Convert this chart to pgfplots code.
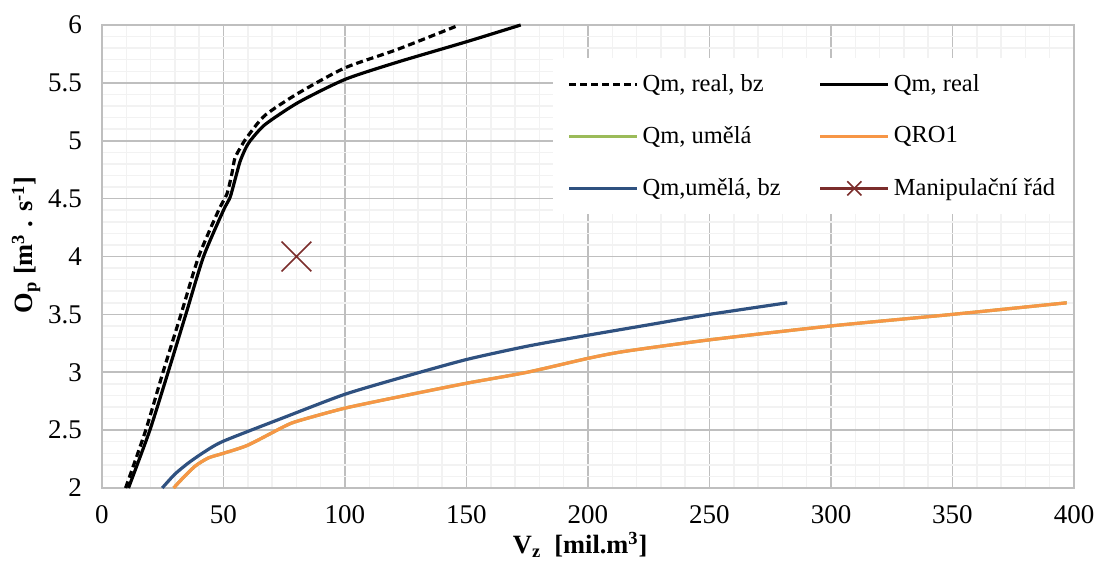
\documentclass[border=0pt]{standalone}
\usepackage{fontspec}
\setmainfont{Liberation Serif}
\usepackage{pgfplots}
\pgfplotsset{compat=1.18}
\definecolor{gridmaj}{HTML}{BFBFBF}
\definecolor{gridmin}{HTML}{F2F2F2}
\definecolor{qgreen}{HTML}{9BBB59}
\definecolor{qorange}{HTML}{F79646}
\definecolor{qblue}{HTML}{2F5180}
\definecolor{qred}{HTML}{7B2D2B}

\begin{document}
\begin{tikzpicture}
\begin{axis}[
  name=ax,
  scale only axis, width=486pt, height=231.5pt,
  xmin=0, xmax=400, ymin=2, ymax=6,
  xtick={0,50,...,400}, ytick={2,2.5,...,6},
  minor x tick num=4, minor y tick num=4,
  grid=both,
  major grid style={gridmaj, line width=0.75pt},
  minor grid style={gridmin, line width=0.75pt},
  axis line style={gridmaj, line width=0.75pt},
  major tick length=0pt, minor tick length=0pt,
  tick label style={font=\fontsize{13.5}{16}\selectfont},
  /pgf/number format/assume math mode=true,
  yticklabel style={xshift=-6.5pt},
  xticklabel style={yshift=-5pt},
  xlabel={\textbf{V\textsubscript{z}\ \ [mil.m\textsuperscript{3}]}},
  ylabel={\textbf{O\textsubscript{p} [m\textsuperscript{3} . s\textsuperscript{-1}]}},
  label style={font=\fontsize{13.2}{15}\selectfont},
  xlabel style={at={(axis description cs:0.492,-0.123)}, anchor=center},
  ylabel style={at={(axis description cs:-0.078,0.525)}, anchor=center},
  clip=false,
  every axis plot/.append style={line width=1.6pt},
  legend columns=2,
  legend cell align=left,
  legend style={at={(axis description cs:0.464,0.929)}, anchor=north west,
    draw=none, fill=white, font=\fontsize{12.25}{14}\selectfont,
    row sep=12pt, inner xsep=7pt, inner ysep=6pt,
    /tikz/column 2/.style={column sep=17pt}},
  legend image code/.code={\draw[#1] (0pt,0pt) -- (34pt,0pt);},
]
% Qm, real, bz
\addplot[black, smooth, tension=0.4, dash pattern=on 3.5pt off 2pt] coordinates {
(9.7,2) (18,2.5) (25.1,3) (32.5,3.5) (39.8,4) (48,4.4) (51.4,4.54) (53.4,4.71)
(54.7,4.85) (57.5,4.96) (60,5.04) (67.1,5.22) (80.7,5.41) (100,5.63) (121.7,5.79) (147,6.0)};
% Qm, real
\addplot[black, smooth, tension=0.4] coordinates {
(10.9,2) (19.7,2.5) (27.2,3) (34.5,3.5) (41.8,4) (50,4.4) (52.7,4.51) (54.7,4.66)
(56.8,4.82) (59,4.93) (61,5.0) (67.1,5.14) (80.7,5.33) (100,5.53) (121.7,5.68) (150.1,5.856) (172.3,6.0)};
% Qm, umela
\addplot[qgreen, smooth, tension=0.4] coordinates {
(29.5,2) (33,2.08) (38.4,2.19) (43.8,2.26) (50,2.30) (60,2.37) (75.3,2.535) (80.8,2.58)
(100,2.69) (125,2.80) (150,2.905) (175,3.0) (200,3.12) (215,3.18) (250,3.28) (300,3.40) (350,3.50) (397,3.6)};
% QRO1
\addplot[qorange, smooth, tension=0.4] coordinates {
(29.5,2) (33,2.08) (38.4,2.19) (43.8,2.26) (50,2.30) (60,2.37) (75.3,2.535) (80.8,2.58)
(100,2.69) (125,2.80) (150,2.905) (175,3.0) (200,3.12) (215,3.18) (250,3.28) (300,3.40) (350,3.50) (397,3.6)};
% Qm, umela, bz
\addplot[qblue, smooth, tension=0.4] coordinates {
(24.8,2) (30,2.12) (35.6,2.217) (42,2.31) (50,2.405) (75,2.61) (100,2.81) (125,2.965)
(150,3.11) (175,3.225) (200,3.32) (225,3.41) (250,3.5) (282,3.6)};
% Manipulacni rad
\addplot[qred, only marks, mark=x, mark size=10.5pt, mark options={line width=0.8pt},
  legend image code/.code={
    \draw[qred, line width=1.6pt] (0pt,0pt) -- (34pt,0pt);
    \draw[qred, sharp plot, mark=x, mark size=5pt, mark options={line width=0.8pt},
      mark repeat=2, mark phase=2] plot coordinates {(0pt,0pt) (17pt,0pt) (34pt,0pt)};}
] coordinates {(80,4)};
\legend{Qm{,} real{,} bz, Qm{,} real, Qm{,} umělá, QRO1, Qm{,}umělá{,} bz, Manipulační řád}
\end{axis}
\path (ax.south west) ++(-51pt,-36.5pt) rectangle ++(552.5pt,280.5pt);
\end{tikzpicture}
\end{document}
